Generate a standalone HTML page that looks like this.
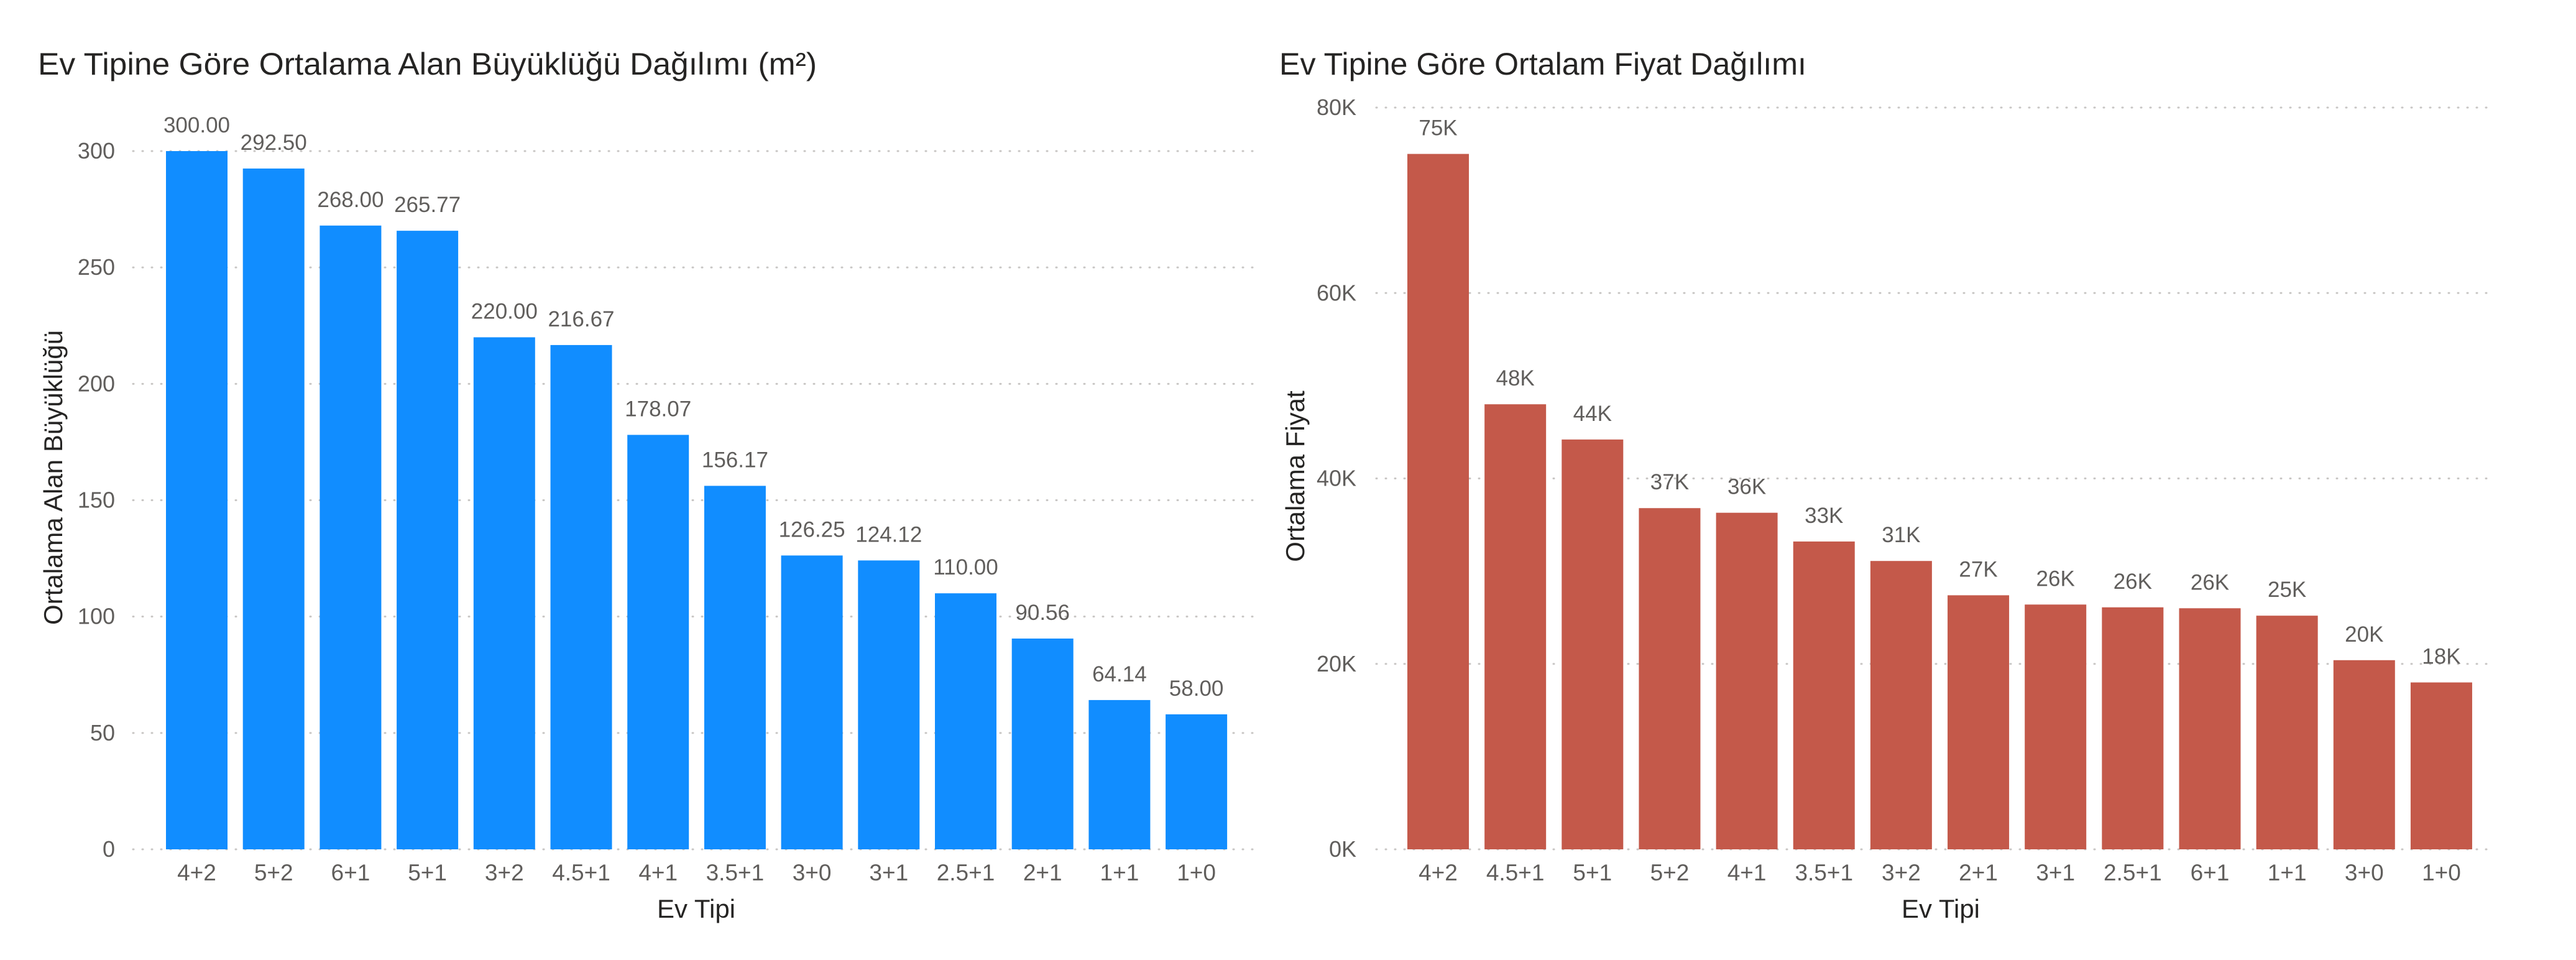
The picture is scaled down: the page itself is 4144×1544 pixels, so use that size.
<!DOCTYPE html>
<html><head><meta charset="utf-8">
<style>
html,body{margin:0;padding:0;background:#fff;}
svg{display:block;font-family:"Liberation Sans","Noto Sans CJK SC",sans-serif;}
</style></head>
<body>
<svg id="c" width="4144" height="1544" viewBox="0 0 4144 1544" xmlns="http://www.w3.org/2000/svg">
<rect width="4144" height="1544" fill="#fff"/>
<text x="61" y="120" font-size="50" fill="#252423" textLength="1253" lengthAdjust="spacingAndGlyphs">Ev Tipine Göre Ortalama Alan Büyüklüğü Dağılımı (m²)</text>
<text x="2058" y="120" font-size="50" fill="#252423" textLength="848" lengthAdjust="spacingAndGlyphs">Ev Tipine Göre Ortalam Fiyat Dağılımı</text>
<g id="left"></g>
<g id="right"></g>
</svg>
<script>
const areaCats = ["4+2","5+2","6+1","5+1","3+2","4.5+1","4+1","3.5+1","3+0","3+1","2.5+1","2+1","1+1","1+0"];
const areaVals = [300.00,292.50,268.00,265.77,220.00,216.67,178.07,156.17,126.25,124.12,110.00,90.56,64.14,58.00];
const areaTicks = [0,50,100,150,200,250,300];
const priceCats = ["4+2","4.5+1","5+1","5+2","4+1","3.5+1","3+2","2+1","3+1","2.5+1","6+1","1+1","3+0","1+0"];
const priceVals = [75000,48000,44200,36800,36300,33200,31100,27400,26400,26100,26000,25200,20400,18000];
const priceTicks = [0,20000,40000,60000,80000];

const NS="http://www.w3.org/2000/svg";
function mk(tag,attrs,parent){const e=document.createElementNS(NS,tag);for(const k in attrs)e.setAttribute(k,attrs[k]);parent.appendChild(e);return e;}

function drawChart(g,cfg){
  const yScale=v=>cfg.y0-(v-cfg.vmin)/(cfg.vmax-cfg.vmin)*(cfg.y0-cfg.yTop);
  const xBand=i=>cfg.xFirst+i*cfg.step;
  cfg.ticks.forEach(t=>{
    const y=yScale(t);
    const l=mk("line",{x1:cfg.gx0,x2:cfg.gx1,y1:y,y2:y,stroke:"#c8c6c4","stroke-width":3,"stroke-dasharray":"1 14","stroke-linecap":"round"},g);
    
    
    const tx=mk("text",{x:cfg.tickX,y:y+12,"font-size":36,fill:"#605e5c","text-anchor":"end"},g);
    
    
    tx.textContent=cfg.fmtTick(t);
  });
  cfg.cats.forEach((c,i)=>{
    const v=cfg.vals[i];
    const x=xBand(i), y=yScale(v);
    const r=mk("rect",{x:x,y:y,width:cfg.bw,height:cfg.y0-y,fill:cfg.color},g);
    
    
    const lb=mk("text",{x:x+cfg.bw/2,y:y-30,"font-size":35,fill:"#605e5c","text-anchor":"middle"},g);
    
    
    lb.textContent=cfg.fmtVal(v);
    const xl=mk("text",{x:x+cfg.bw/2,y:1416,"font-size":37,fill:"#605e5c","text-anchor":"middle"},g);
    
    
    xl.textContent=c;
  });
  const xt=mk("text",{x:cfg.xTitleX,y:1476,"font-size":42,fill:"#252423","text-anchor":"middle"},g);
  
  
  xt.textContent="Ev Tipi";
  const yt=mk("text",{x:0,y:0,"font-size":42,fill:"#252423","text-anchor":"middle",transform:"translate("+cfg.yTitleX+","+cfg.yTitleY+") rotate(-90)"},g);
  
  
  yt.textContent=cfg.yTitle;
}

drawChart(document.getElementById('left'),{
  cats:areaCats,vals:areaVals,ticks:areaTicks,vmin:0,vmax:300,y0:1366,yTop:243,
  xFirst:267,step:123.7,bw:99,gx0:214,gx1:2017,tickX:185,color:"#118dff",
  fmtTick:t=>String(t),fmtVal:v=>v.toFixed(2),xTitleX:1120,yTitleX:100,yTitleY:768,
  yTitle:"Ortalama Alan Büyüklüğü"
});
drawChart(document.getElementById('right'),{
  cats:priceCats,vals:priceVals,ticks:priceTicks,vmin:0,vmax:80000,y0:1366,yTop:173,
  xFirst:2264,step:124.15,bw:99,gx0:2214,gx1:4013,tickX:2182,color:"#c4594a",
  fmtTick:t=>(t/1000)+"K",fmtVal:v=>Math.round(v/1000)+"K",xTitleX:3122,yTitleX:2098,yTitleY:766,
  yTitle:"Ortalama Fiyat"
});
</script>
</body></html>
